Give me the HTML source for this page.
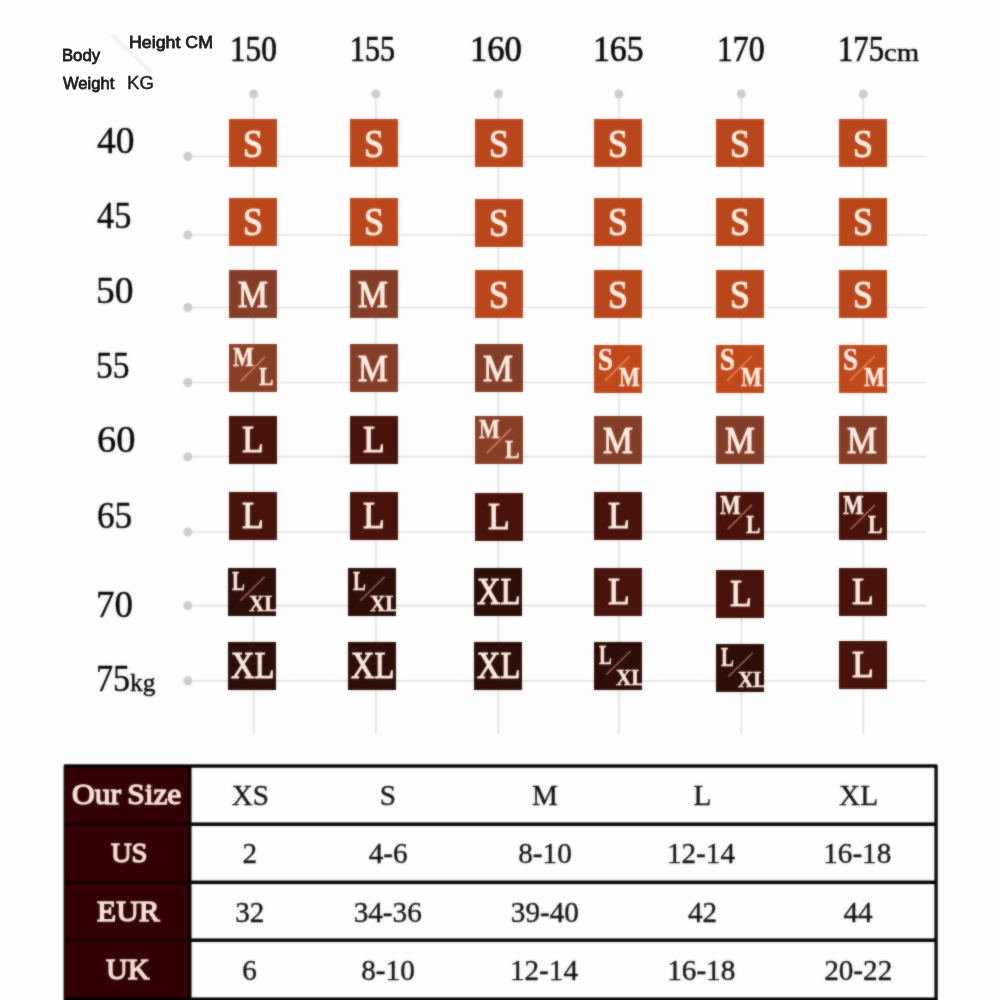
<!DOCTYPE html>
<html lang="en"><head><meta charset="utf-8"><title>Size Chart</title>
<style>
html,body{margin:0;padding:0;background:#fefefe;}
body{width:1000px;height:1000px;position:relative;overflow:hidden;}
.t{position:absolute;white-space:nowrap;transform-origin:0 0;}
.b{position:absolute;width:48px;height:48px;overflow:hidden;}

.r{position:absolute;}
svg{position:absolute;left:0;top:0;}
#w{position:absolute;left:0;top:0;width:1000px;height:1010px;filter:url(#soft);}
</style></head><body><svg width="0" height="0" style="position:absolute"><filter id="soft" x="0" y="0" width="100%" height="100%" color-interpolation-filters="sRGB"><feGaussianBlur in="SourceGraphic" stdDeviation="0.9" result="b"/><feComposite in="SourceGraphic" in2="b" operator="arithmetic" k1="0" k2="0.45" k3="0.55" k4="0"/></filter></svg><div id="w">

<svg width="1000" height="1000" viewBox="0 0 1000 1000">
<line x1="112" y1="35" x2="152" y2="73" stroke="#f2f2f2" stroke-width="3.5"/>
<line x1="253.7" y1="94" x2="253.7" y2="734" stroke="#e3e2e1" stroke-width="1.7"/>
<line x1="375.9" y1="94" x2="375.9" y2="734" stroke="#e3e2e1" stroke-width="1.7"/>
<line x1="498.4" y1="94" x2="498.4" y2="734" stroke="#e3e2e1" stroke-width="1.7"/>
<line x1="618.9" y1="94" x2="618.9" y2="734" stroke="#e3e2e1" stroke-width="1.7"/>
<line x1="741.3" y1="94" x2="741.3" y2="734" stroke="#e3e2e1" stroke-width="1.7"/>
<line x1="863.3" y1="94" x2="863.3" y2="734" stroke="#e3e2e1" stroke-width="1.7"/>
<line x1="188" y1="156.5" x2="926" y2="156.5" stroke="#e3e2e1" stroke-width="1.7"/>
<line x1="188" y1="235" x2="926" y2="235" stroke="#e3e2e1" stroke-width="1.7"/>
<line x1="188" y1="307.5" x2="926" y2="307.5" stroke="#e3e2e1" stroke-width="1.7"/>
<line x1="188" y1="382.5" x2="926" y2="382.5" stroke="#e3e2e1" stroke-width="1.7"/>
<line x1="188" y1="456.7" x2="926" y2="456.7" stroke="#e3e2e1" stroke-width="1.7"/>
<line x1="188" y1="532" x2="926" y2="532" stroke="#e3e2e1" stroke-width="1.7"/>
<line x1="188" y1="605.7" x2="926" y2="605.7" stroke="#e3e2e1" stroke-width="1.7"/>
<line x1="188" y1="680.8" x2="926" y2="680.8" stroke="#e3e2e1" stroke-width="1.7"/>
<circle cx="253.7" cy="94" r="4.5" fill="#cfcccc"/>
<circle cx="375.9" cy="94" r="4.5" fill="#cfcccc"/>
<circle cx="498.4" cy="94" r="4.5" fill="#cfcccc"/>
<circle cx="618.9" cy="94" r="4.5" fill="#cfcccc"/>
<circle cx="741.3" cy="94" r="4.5" fill="#cfcccc"/>
<circle cx="863.3" cy="94" r="4.5" fill="#cfcccc"/>
<circle cx="187.8" cy="156.5" r="4.5" fill="#cfcccc"/>
<circle cx="187.8" cy="235" r="4.5" fill="#cfcccc"/>
<circle cx="187.8" cy="307.5" r="4.5" fill="#cfcccc"/>
<circle cx="187.8" cy="382.5" r="4.5" fill="#cfcccc"/>
<circle cx="187.8" cy="456.7" r="4.5" fill="#cfcccc"/>
<circle cx="187.8" cy="532" r="4.5" fill="#cfcccc"/>
<circle cx="187.8" cy="605.7" r="4.5" fill="#cfcccc"/>
<circle cx="187.8" cy="680.8" r="4.5" fill="#cfcccc"/>
</svg>
<div class="b" style="left:229px;top:119px;background:#ba471b"><div class="t" style="left:13.92px;top:4.67px;font:400 40.45px/1 'Liberation Serif', serif;color:#ffeee4;transform:scaleX(0.8853);-webkit-text-stroke:1.1px #ffeee4;">S</div></div>
<div class="b" style="left:349.8px;top:119px;background:#ba471b"><div class="t" style="left:13.92px;top:4.67px;font:400 40.45px/1 'Liberation Serif', serif;color:#ffeee4;transform:scaleX(0.8853);-webkit-text-stroke:1.1px #ffeee4;">S</div></div>
<div class="b" style="left:474.9px;top:119px;background:#ba471b"><div class="t" style="left:13.92px;top:4.67px;font:400 40.45px/1 'Liberation Serif', serif;color:#ffeee4;transform:scaleX(0.8853);-webkit-text-stroke:1.1px #ffeee4;">S</div></div>
<div class="b" style="left:594.3px;top:119px;background:#ba471b"><div class="t" style="left:13.92px;top:4.67px;font:400 40.45px/1 'Liberation Serif', serif;color:#ffeee4;transform:scaleX(0.8853);-webkit-text-stroke:1.1px #ffeee4;">S</div></div>
<div class="b" style="left:716.4px;top:119px;background:#ba471b"><div class="t" style="left:13.92px;top:4.67px;font:400 40.45px/1 'Liberation Serif', serif;color:#ffeee4;transform:scaleX(0.8853);-webkit-text-stroke:1.1px #ffeee4;">S</div></div>
<div class="b" style="left:838.8px;top:119px;background:#ba471b"><div class="t" style="left:13.92px;top:4.67px;font:400 40.45px/1 'Liberation Serif', serif;color:#ffeee4;transform:scaleX(0.8853);-webkit-text-stroke:1.1px #ffeee4;">S</div></div>
<div class="b" style="left:229px;top:197.5px;background:#ba471b"><div class="t" style="left:13.92px;top:4.67px;font:400 40.45px/1 'Liberation Serif', serif;color:#ffeee4;transform:scaleX(0.8853);-webkit-text-stroke:1.1px #ffeee4;">S</div></div>
<div class="b" style="left:349.8px;top:197.5px;background:#ba471b"><div class="t" style="left:13.92px;top:4.67px;font:400 40.45px/1 'Liberation Serif', serif;color:#ffeee4;transform:scaleX(0.8853);-webkit-text-stroke:1.1px #ffeee4;">S</div></div>
<div class="b" style="left:474.9px;top:198.8px;background:#ba471b"><div class="t" style="left:13.92px;top:4.67px;font:400 40.45px/1 'Liberation Serif', serif;color:#ffeee4;transform:scaleX(0.8853);-webkit-text-stroke:1.1px #ffeee4;">S</div></div>
<div class="b" style="left:594.3px;top:197.5px;background:#ba471b"><div class="t" style="left:13.92px;top:4.67px;font:400 40.45px/1 'Liberation Serif', serif;color:#ffeee4;transform:scaleX(0.8853);-webkit-text-stroke:1.1px #ffeee4;">S</div></div>
<div class="b" style="left:716.4px;top:197.5px;background:#ba471b"><div class="t" style="left:13.92px;top:4.67px;font:400 40.45px/1 'Liberation Serif', serif;color:#ffeee4;transform:scaleX(0.8853);-webkit-text-stroke:1.1px #ffeee4;">S</div></div>
<div class="b" style="left:838.8px;top:197.5px;background:#ba471b"><div class="t" style="left:13.92px;top:4.67px;font:400 40.45px/1 'Liberation Serif', serif;color:#ffeee4;transform:scaleX(0.8853);-webkit-text-stroke:1.1px #ffeee4;">S</div></div>
<div class="b" style="left:229px;top:270px;background:#843d27"><div class="t" style="left:8.51px;top:4.73px;font:400 38.47px/1 'Liberation Serif', serif;color:#ffeee4;transform:scaleX(0.8716);-webkit-text-stroke:1.1px #ffeee4;">M</div></div>
<div class="b" style="left:349.8px;top:270px;background:#843d27"><div class="t" style="left:8.51px;top:4.73px;font:400 38.47px/1 'Liberation Serif', serif;color:#ffeee4;transform:scaleX(0.8716);-webkit-text-stroke:1.1px #ffeee4;">M</div></div>
<div class="b" style="left:474.9px;top:270px;background:#ba471b"><div class="t" style="left:13.92px;top:4.67px;font:400 40.45px/1 'Liberation Serif', serif;color:#ffeee4;transform:scaleX(0.8853);-webkit-text-stroke:1.1px #ffeee4;">S</div></div>
<div class="b" style="left:594.3px;top:270px;background:#ba471b"><div class="t" style="left:13.92px;top:4.67px;font:400 40.45px/1 'Liberation Serif', serif;color:#ffeee4;transform:scaleX(0.8853);-webkit-text-stroke:1.1px #ffeee4;">S</div></div>
<div class="b" style="left:716.4px;top:270px;background:#ba471b"><div class="t" style="left:13.92px;top:4.67px;font:400 40.45px/1 'Liberation Serif', serif;color:#ffeee4;transform:scaleX(0.8853);-webkit-text-stroke:1.1px #ffeee4;">S</div></div>
<div class="b" style="left:838.8px;top:270px;background:#ba471b"><div class="t" style="left:13.92px;top:4.67px;font:400 40.45px/1 'Liberation Serif', serif;color:#ffeee4;transform:scaleX(0.8853);-webkit-text-stroke:1.1px #ffeee4;">S</div></div>
<div class="b" style="left:229px;top:343.8px;background:#883f26"><div class="t" style="left:3.75px;top:-0.14px;font:700 26.64px/1 'Liberation Serif', serif;color:#ffeee4;transform:scaleX(0.8233);-webkit-text-stroke:0.45px #ffeee4;">M</div><div class="t" style="left:29.65px;top:20.27px;font:700 26.03px/1 'Liberation Serif', serif;color:#ffeee4;transform:scaleX(0.8282);-webkit-text-stroke:0.45px #ffeee4;">L</div><svg width="48" height="48"><line x1="11.55" y1="37.4" x2="36" y2="12.9" stroke="#cf7a56" stroke-width="1.6"/></svg></div>
<div class="b" style="left:349.8px;top:343.8px;background:#843d27"><div class="t" style="left:8.51px;top:4.73px;font:400 38.47px/1 'Liberation Serif', serif;color:#ffeee4;transform:scaleX(0.8716);-webkit-text-stroke:1.1px #ffeee4;">M</div></div>
<div class="b" style="left:474.9px;top:343.8px;background:#843d27"><div class="t" style="left:8.51px;top:4.73px;font:400 38.47px/1 'Liberation Serif', serif;color:#ffeee4;transform:scaleX(0.8716);-webkit-text-stroke:1.1px #ffeee4;">M</div></div>
<div class="b" style="left:594.3px;top:345.0px;background:#bf491b"><div class="t" style="left:4.08px;top:-0.83px;font:700 31.29px/1 'Liberation Serif', serif;color:#ffeee4;transform:scaleX(0.8626);-webkit-text-stroke:0.45px #ffeee4;">S</div><div class="t" style="left:25.10px;top:19.08px;font:700 27.10px/1 'Liberation Serif', serif;color:#ffeee4;transform:scaleX(0.8094);-webkit-text-stroke:0.45px #ffeee4;">M</div><svg width="48" height="48"><line x1="10.8" y1="35.7" x2="35.7" y2="11.2" stroke="#e8835a" stroke-width="1.6"/></svg></div>
<div class="b" style="left:716.4px;top:345.0px;background:#bf491b"><div class="t" style="left:4.08px;top:-0.83px;font:700 31.29px/1 'Liberation Serif', serif;color:#ffeee4;transform:scaleX(0.8626);-webkit-text-stroke:0.45px #ffeee4;">S</div><div class="t" style="left:25.10px;top:19.08px;font:700 27.10px/1 'Liberation Serif', serif;color:#ffeee4;transform:scaleX(0.8094);-webkit-text-stroke:0.45px #ffeee4;">M</div><svg width="48" height="48"><line x1="10.8" y1="35.7" x2="35.7" y2="11.2" stroke="#e8835a" stroke-width="1.6"/></svg></div>
<div class="b" style="left:838.8px;top:345.0px;background:#bf491b"><div class="t" style="left:4.08px;top:-0.83px;font:700 31.29px/1 'Liberation Serif', serif;color:#ffeee4;transform:scaleX(0.8626);-webkit-text-stroke:0.45px #ffeee4;">S</div><div class="t" style="left:25.10px;top:19.08px;font:700 27.10px/1 'Liberation Serif', serif;color:#ffeee4;transform:scaleX(0.8094);-webkit-text-stroke:0.45px #ffeee4;">M</div><svg width="48" height="48"><line x1="10.8" y1="35.7" x2="35.7" y2="11.2" stroke="#e8835a" stroke-width="1.6"/></svg></div>
<div class="b" style="left:229px;top:416.3px;background:#47130a"><div class="t" style="left:13.36px;top:3.85px;font:400 38.93px/1 'Liberation Serif', serif;color:#ffeee4;transform:scaleX(0.9111);-webkit-text-stroke:1.1px #ffeee4;">L</div></div>
<div class="b" style="left:349.8px;top:416.3px;background:#47130a"><div class="t" style="left:13.36px;top:3.85px;font:400 38.93px/1 'Liberation Serif', serif;color:#ffeee4;transform:scaleX(0.9111);-webkit-text-stroke:1.1px #ffeee4;">L</div></div>
<div class="b" style="left:474.9px;top:416.3px;background:#883f26"><div class="t" style="left:3.75px;top:-0.14px;font:700 26.64px/1 'Liberation Serif', serif;color:#ffeee4;transform:scaleX(0.8233);-webkit-text-stroke:0.45px #ffeee4;">M</div><div class="t" style="left:29.65px;top:20.27px;font:700 26.03px/1 'Liberation Serif', serif;color:#ffeee4;transform:scaleX(0.8282);-webkit-text-stroke:0.45px #ffeee4;">L</div><svg width="48" height="48"><line x1="11.55" y1="37.4" x2="36" y2="12.9" stroke="#cf7a56" stroke-width="1.6"/></svg></div>
<div class="b" style="left:594.3px;top:416.3px;background:#843d27"><div class="t" style="left:8.51px;top:4.73px;font:400 38.47px/1 'Liberation Serif', serif;color:#ffeee4;transform:scaleX(0.8716);-webkit-text-stroke:1.1px #ffeee4;">M</div></div>
<div class="b" style="left:716.4px;top:416.3px;background:#843d27"><div class="t" style="left:8.51px;top:4.73px;font:400 38.47px/1 'Liberation Serif', serif;color:#ffeee4;transform:scaleX(0.8716);-webkit-text-stroke:1.1px #ffeee4;">M</div></div>
<div class="b" style="left:838.8px;top:416.3px;background:#843d27"><div class="t" style="left:8.51px;top:4.73px;font:400 38.47px/1 'Liberation Serif', serif;color:#ffeee4;transform:scaleX(0.8716);-webkit-text-stroke:1.1px #ffeee4;">M</div></div>
<div class="b" style="left:229px;top:491.8px;background:#47130a"><div class="t" style="left:13.36px;top:3.85px;font:400 38.93px/1 'Liberation Serif', serif;color:#ffeee4;transform:scaleX(0.9111);-webkit-text-stroke:1.1px #ffeee4;">L</div></div>
<div class="b" style="left:349.8px;top:491.8px;background:#47130a"><div class="t" style="left:13.36px;top:3.85px;font:400 38.93px/1 'Liberation Serif', serif;color:#ffeee4;transform:scaleX(0.9111);-webkit-text-stroke:1.1px #ffeee4;">L</div></div>
<div class="b" style="left:474.9px;top:493.2px;background:#47130a"><div class="t" style="left:13.36px;top:3.85px;font:400 38.93px/1 'Liberation Serif', serif;color:#ffeee4;transform:scaleX(0.9111);-webkit-text-stroke:1.1px #ffeee4;">L</div></div>
<div class="b" style="left:594.3px;top:491.8px;background:#47130a"><div class="t" style="left:13.36px;top:3.85px;font:400 38.93px/1 'Liberation Serif', serif;color:#ffeee4;transform:scaleX(0.9111);-webkit-text-stroke:1.1px #ffeee4;">L</div></div>
<div class="b" style="left:716.4px;top:491.8px;background:#47130a"><div class="t" style="left:3.75px;top:-0.14px;font:700 26.64px/1 'Liberation Serif', serif;color:#ffeee4;transform:scaleX(0.8233);-webkit-text-stroke:0.45px #ffeee4;">M</div><div class="t" style="left:29.65px;top:20.27px;font:700 26.03px/1 'Liberation Serif', serif;color:#ffeee4;transform:scaleX(0.8282);-webkit-text-stroke:0.45px #ffeee4;">L</div><svg width="48" height="48"><line x1="11.55" y1="37.4" x2="36" y2="12.9" stroke="#a8604a" stroke-width="1.6"/></svg></div>
<div class="b" style="left:838.8px;top:491.8px;background:#47130a"><div class="t" style="left:3.75px;top:-0.14px;font:700 26.64px/1 'Liberation Serif', serif;color:#ffeee4;transform:scaleX(0.8233);-webkit-text-stroke:0.45px #ffeee4;">M</div><div class="t" style="left:29.65px;top:20.27px;font:700 26.03px/1 'Liberation Serif', serif;color:#ffeee4;transform:scaleX(0.8282);-webkit-text-stroke:0.45px #ffeee4;">L</div><svg width="48" height="48"><line x1="11.55" y1="37.4" x2="36" y2="12.9" stroke="#a8604a" stroke-width="1.6"/></svg></div>
<div class="b" style="left:227.5px;top:568.3px;background:#2c0d07"><div class="t" style="left:4.54px;top:-0.90px;font:700 27.56px/1 'Liberation Serif', serif;color:#ffeee4;transform:scaleX(0.6990);-webkit-text-stroke:0.45px #ffeee4;">L</div><div class="t" style="left:21.61px;top:24.84px;font:700 22.37px/1 'Liberation Serif', serif;color:#ffeee4;transform:scaleX(0.9515);-webkit-text-stroke:0.45px #ffeee4;">XL</div><svg width="48" height="48"><line x1="12.3" y1="32.6" x2="36.8" y2="8.8" stroke="#96584e" stroke-width="1.6"/></svg></div>
<div class="b" style="left:348.2px;top:568.3px;background:#2c0d07"><div class="t" style="left:4.54px;top:-0.90px;font:700 27.56px/1 'Liberation Serif', serif;color:#ffeee4;transform:scaleX(0.6990);-webkit-text-stroke:0.45px #ffeee4;">L</div><div class="t" style="left:21.61px;top:24.84px;font:700 22.37px/1 'Liberation Serif', serif;color:#ffeee4;transform:scaleX(0.9515);-webkit-text-stroke:0.45px #ffeee4;">XL</div><svg width="48" height="48"><line x1="12.3" y1="32.6" x2="36.8" y2="8.8" stroke="#96584e" stroke-width="1.6"/></svg></div>
<div class="b" style="left:474.4px;top:568.3px;background:#2c0d07"><div class="t" style="left:3.10px;top:4.90px;font:400 37.56px/1 'Liberation Serif', serif;color:#ffeee4;transform:scaleX(0.8662);-webkit-text-stroke:1.1px #ffeee4;">XL</div></div>
<div class="b" style="left:594.3px;top:568.3px;background:#47130a"><div class="t" style="left:13.36px;top:3.85px;font:400 38.93px/1 'Liberation Serif', serif;color:#ffeee4;transform:scaleX(0.9111);-webkit-text-stroke:1.1px #ffeee4;">L</div></div>
<div class="b" style="left:716.4px;top:569.8px;background:#47130a"><div class="t" style="left:13.36px;top:3.85px;font:400 38.93px/1 'Liberation Serif', serif;color:#ffeee4;transform:scaleX(0.9111);-webkit-text-stroke:1.1px #ffeee4;">L</div></div>
<div class="b" style="left:838.8px;top:568.3px;background:#47130a"><div class="t" style="left:13.36px;top:3.85px;font:400 38.93px/1 'Liberation Serif', serif;color:#ffeee4;transform:scaleX(0.9111);-webkit-text-stroke:1.1px #ffeee4;">L</div></div>
<div class="b" style="left:227.5px;top:642px;background:#2c0d07"><div class="t" style="left:3.10px;top:4.90px;font:400 37.56px/1 'Liberation Serif', serif;color:#ffeee4;transform:scaleX(0.8662);-webkit-text-stroke:1.1px #ffeee4;">XL</div></div>
<div class="b" style="left:348.2px;top:642px;background:#2c0d07"><div class="t" style="left:3.10px;top:4.90px;font:400 37.56px/1 'Liberation Serif', serif;color:#ffeee4;transform:scaleX(0.8662);-webkit-text-stroke:1.1px #ffeee4;">XL</div></div>
<div class="b" style="left:474.4px;top:642px;background:#2c0d07"><div class="t" style="left:3.10px;top:4.90px;font:400 37.56px/1 'Liberation Serif', serif;color:#ffeee4;transform:scaleX(0.8662);-webkit-text-stroke:1.1px #ffeee4;">XL</div></div>
<div class="b" style="left:594.3px;top:642px;background:#2c0d07"><div class="t" style="left:4.54px;top:-0.90px;font:700 27.56px/1 'Liberation Serif', serif;color:#ffeee4;transform:scaleX(0.6990);-webkit-text-stroke:0.45px #ffeee4;">L</div><div class="t" style="left:21.61px;top:24.84px;font:700 22.37px/1 'Liberation Serif', serif;color:#ffeee4;transform:scaleX(0.9515);-webkit-text-stroke:0.45px #ffeee4;">XL</div><svg width="48" height="48"><line x1="12.3" y1="32.6" x2="36.8" y2="8.8" stroke="#96584e" stroke-width="1.6"/></svg></div>
<div class="b" style="left:716.4px;top:643.7px;background:#2c0d07"><div class="t" style="left:4.54px;top:-0.90px;font:700 27.56px/1 'Liberation Serif', serif;color:#ffeee4;transform:scaleX(0.6990);-webkit-text-stroke:0.45px #ffeee4;">L</div><div class="t" style="left:21.61px;top:24.84px;font:700 22.37px/1 'Liberation Serif', serif;color:#ffeee4;transform:scaleX(0.9515);-webkit-text-stroke:0.45px #ffeee4;">XL</div><svg width="48" height="48"><line x1="12.3" y1="32.6" x2="36.8" y2="8.8" stroke="#96584e" stroke-width="1.6"/></svg></div>
<div class="b" style="left:838.8px;top:640.7px;background:#47130a"><div class="t" style="left:13.36px;top:3.85px;font:400 38.93px/1 'Liberation Serif', serif;color:#ffeee4;transform:scaleX(0.9111);-webkit-text-stroke:1.1px #ffeee4;">L</div></div>
<div class="t" style="left:230.00px;top:31.32px;font:400 36.09px/1 'Liberation Serif', serif;color:#050505;transform:scaleX(0.8634);-webkit-text-stroke:0.7px #050505;">150</div>
<div class="t" style="left:350.11px;top:31.10px;font:400 36.36px/1 'Liberation Serif', serif;color:#050505;transform:scaleX(0.8230);-webkit-text-stroke:0.7px #050505;">155</div>
<div class="t" style="left:470.12px;top:31.32px;font:400 36.09px/1 'Liberation Serif', serif;color:#050505;transform:scaleX(0.9557);-webkit-text-stroke:0.7px #050505;">160</div>
<div class="t" style="left:593.23px;top:31.10px;font:400 36.36px/1 'Liberation Serif', serif;color:#050505;transform:scaleX(0.9276);-webkit-text-stroke:0.7px #050505;">165</div>
<div class="t" style="left:716.96px;top:31.32px;font:400 36.09px/1 'Liberation Serif', serif;color:#050505;transform:scaleX(0.8784);-webkit-text-stroke:0.7px #050505;">170</div>
<div class="t" style="left:838.24px;top:31.10px;font:400 36.36px/1 'Liberation Serif', serif;color:#050505;transform:scaleX(0.8429);-webkit-text-stroke:0.7px #050505;">175</div>
<div class="t" style="left:883.99px;top:40.22px;font:400 25.65px/1 'Liberation Serif', serif;color:#050505;transform:scaleX(1.1225);-webkit-text-stroke:0.4px #050505;">cm</div>
<div class="t" style="left:97.14px;top:121.77px;font:400 37.29px/1 'Liberation Serif', serif;color:#050505;transform:scaleX(1.0048);-webkit-text-stroke:0.4px #050505;">40</div>
<div class="t" style="left:97.19px;top:196.53px;font:400 37.58px/1 'Liberation Serif', serif;color:#050505;transform:scaleX(0.9132);-webkit-text-stroke:0.4px #050505;">45</div>
<div class="t" style="left:95.64px;top:271.72px;font:400 37.59px/1 'Liberation Serif', serif;color:#050505;transform:scaleX(0.9968);-webkit-text-stroke:0.4px #050505;">50</div>
<div class="t" style="left:95.86px;top:346.75px;font:400 37.56px/1 'Liberation Serif', serif;color:#050505;transform:scaleX(0.8924);-webkit-text-stroke:0.4px #050505;">55</div>
<div class="t" style="left:97.06px;top:421.32px;font:400 37.59px/1 'Liberation Serif', serif;color:#050505;transform:scaleX(1.0237);-webkit-text-stroke:0.4px #050505;">60</div>
<div class="t" style="left:97.19px;top:496.50px;font:400 37.73px/1 'Liberation Serif', serif;color:#050505;transform:scaleX(0.9342);-webkit-text-stroke:0.4px #050505;">65</div>
<div class="t" style="left:96.20px;top:585.72px;font:400 37.59px/1 'Liberation Serif', serif;color:#050505;transform:scaleX(0.9812);-webkit-text-stroke:0.4px #050505;">70</div>
<div class="t" style="left:96.48px;top:659.82px;font:400 37.71px/1 'Liberation Serif', serif;color:#050505;transform:scaleX(0.9046);-webkit-text-stroke:0.4px #050505;">75</div>
<div class="t" style="left:130.42px;top:669.99px;font:400 25.32px/1 'Liberation Serif', serif;color:#050505;transform:scaleX(1.0015);-webkit-text-stroke:0.4px #050505;">kg</div>
<svg width="1000" height="1010" viewBox="0 0 1000 1010"><rect x="64.2" y="765.5" width="127" height="244.5" fill="#330103"/><rect x="64.2" y="764.3" width="873" height="3.4" fill="#000"/><rect x="190" y="822.45" width="747" height="3.5" fill="#000"/><rect x="64.2" y="822.7" width="126" height="3.0" fill="#140001"/><rect x="190" y="880.55" width="747" height="3.5" fill="#000"/><rect x="64.2" y="880.8" width="126" height="3.0" fill="#140001"/><rect x="190" y="938.45" width="747" height="3.5" fill="#000"/><rect x="64.2" y="938.7" width="126" height="3.0" fill="#140001"/><rect x="64.2" y="997.5" width="873" height="12" fill="#000"/><rect x="188.4" y="765.3" width="3.0" height="245" fill="#0a0000"/><rect x="934.45" y="765.3" width="3.2" height="245" fill="#000"/><rect x="63.6" y="765.3" width="1.4" height="245" fill="#140001"/></svg>
<div class="t" style="left:71.89px;top:780.01px;font:400 29.55px/1 'Liberation Serif', serif;color:#f7e4da;transform:scaleX(1.0645);word-spacing:-1.50px;-webkit-text-stroke:1.3px #f7e4da;">Our Size</div>
<div class="t" style="left:110.83px;top:839.27px;font:400 28.03px/1 'Liberation Serif', serif;color:#f7e4da;transform:scaleX(1.0192);-webkit-text-stroke:1.3px #f7e4da;">US</div>
<div class="t" style="left:96.62px;top:897.77px;font:400 28.40px/1 'Liberation Serif', serif;color:#f7e4da;transform:scaleX(1.1029);-webkit-text-stroke:1.3px #f7e4da;">EUR</div>
<div class="t" style="left:105.55px;top:955.77px;font:400 28.40px/1 'Liberation Serif', serif;color:#f7e4da;transform:scaleX(1.0610);-webkit-text-stroke:1.3px #f7e4da;">UK</div>
<div class="t" style="left:231.64px;top:780.94px;font:400 29.20px/1 'Liberation Serif', serif;color:#111;-webkit-text-stroke:0.35px #111;">XS</div>
<div class="t" style="left:379.82px;top:780.94px;font:400 29.20px/1 'Liberation Serif', serif;color:#111;-webkit-text-stroke:0.35px #111;">S</div>
<div class="t" style="left:532.08px;top:780.94px;font:400 29.20px/1 'Liberation Serif', serif;color:#111;-webkit-text-stroke:0.35px #111;">M</div>
<div class="t" style="left:693.53px;top:780.94px;font:400 29.20px/1 'Liberation Serif', serif;color:#111;-webkit-text-stroke:0.35px #111;">L</div>
<div class="t" style="left:839.06px;top:780.94px;font:400 29.20px/1 'Liberation Serif', serif;color:#111;-webkit-text-stroke:0.35px #111;">XL</div>
<div class="t" style="left:242.62px;top:838.94px;font:400 29.20px/1 'Liberation Serif', serif;color:#111;-webkit-text-stroke:0.35px #111;">2</div>
<div class="t" style="left:368.68px;top:838.94px;font:400 29.20px/1 'Liberation Serif', serif;color:#111;-webkit-text-stroke:0.35px #111;">4-6</div>
<div class="t" style="left:518.24px;top:838.94px;font:400 29.20px/1 'Liberation Serif', serif;color:#111;-webkit-text-stroke:0.35px #111;">8-10</div>
<div class="t" style="left:666.92px;top:838.94px;font:400 29.20px/1 'Liberation Serif', serif;color:#111;-webkit-text-stroke:0.35px #111;">12-14</div>
<div class="t" style="left:823.21px;top:838.94px;font:400 29.20px/1 'Liberation Serif', serif;color:#111;-webkit-text-stroke:0.35px #111;">16-18</div>
<div class="t" style="left:235.25px;top:897.94px;font:400 29.20px/1 'Liberation Serif', serif;color:#111;-webkit-text-stroke:0.35px #111;">32</div>
<div class="t" style="left:353.65px;top:897.94px;font:400 29.20px/1 'Liberation Serif', serif;color:#111;-webkit-text-stroke:0.35px #111;">34-36</div>
<div class="t" style="left:510.79px;top:897.94px;font:400 29.20px/1 'Liberation Serif', serif;color:#111;-webkit-text-stroke:0.35px #111;">39-40</div>
<div class="t" style="left:687.98px;top:897.94px;font:400 29.20px/1 'Liberation Serif', serif;color:#111;-webkit-text-stroke:0.35px #111;">42</div>
<div class="t" style="left:843.40px;top:897.94px;font:400 29.20px/1 'Liberation Serif', serif;color:#111;-webkit-text-stroke:0.35px #111;">44</div>
<div class="t" style="left:242.18px;top:955.94px;font:400 29.20px/1 'Liberation Serif', serif;color:#111;-webkit-text-stroke:0.35px #111;">6</div>
<div class="t" style="left:361.24px;top:955.94px;font:400 29.20px/1 'Liberation Serif', serif;color:#111;-webkit-text-stroke:0.35px #111;">8-10</div>
<div class="t" style="left:509.92px;top:955.94px;font:400 29.20px/1 'Liberation Serif', serif;color:#111;-webkit-text-stroke:0.35px #111;">12-14</div>
<div class="t" style="left:667.21px;top:955.94px;font:400 29.20px/1 'Liberation Serif', serif;color:#111;-webkit-text-stroke:0.35px #111;">16-18</div>
<div class="t" style="left:824.16px;top:955.94px;font:400 29.20px/1 'Liberation Serif', serif;color:#111;-webkit-text-stroke:0.35px #111;">20-22</div>
</div>
<div class="t" style="left:61.57px;top:47.14px;font:400 16.38px/1 'Liberation Sans', sans-serif;color:#1e1e1e;transform:scaleX(1.0189);-webkit-text-stroke:0.8px #1e1e1e;">Body</div>
<div class="t" style="left:128.98px;top:34.02px;font:400 17.10px/1 'Liberation Sans', sans-serif;color:#1e1e1e;transform:scaleX(1.0400);-webkit-text-stroke:0.8px #1e1e1e;">Height CM</div>
<div class="t" style="left:62.90px;top:75.22px;font:400 17.10px/1 'Liberation Sans', sans-serif;color:#1e1e1e;transform:scaleX(0.9685);-webkit-text-stroke:0.8px #1e1e1e;">Weight</div>
<div class="t" style="left:126.71px;top:74.93px;font:400 17.68px/1 'Liberation Sans', sans-serif;color:#1e1e1e;transform:scaleX(1.0550);-webkit-text-stroke:0.4px #1e1e1e;">KG</div>
</body></html>
